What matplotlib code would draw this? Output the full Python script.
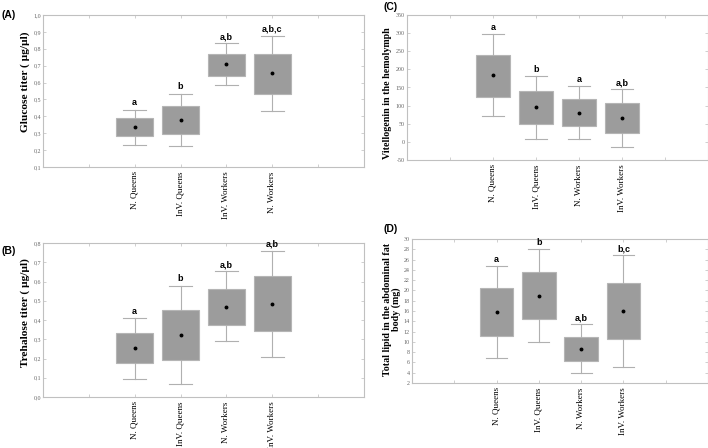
import numpy as np
import matplotlib.pyplot as plt
from matplotlib.ticker import FuncFormatter

# values (box = lower/upper edge, whiskers = low/high, dot = mean)
groups_a = ['N. Queens', 'InV. Queens', 'InV. Workers', 'N. Workers']
mean_a = [0.335, 0.381, 0.707, 0.654]
box_lo_a = [0.284, 0.298, 0.640, 0.535]
box_hi_a = [0.391, 0.460, 0.772, 0.768]
whis_lo_a = [0.233, 0.223, 0.583, 0.430]
whis_hi_a = [0.440, 0.535, 0.832, 0.875]
letters_a = ['a', 'b', 'a,b', 'a,b,c']

groups_b = ['N. Queens', 'InV. Queens', 'N. Workers', 'InV. Workers']
mean_b = [0.253, 0.324, 0.469, 0.483]
box_lo_b = [0.175, 0.192, 0.376, 0.342]
box_hi_b = [0.334, 0.453, 0.561, 0.626]
whis_lo_b = [0.094, 0.068, 0.289, 0.207]
whis_hi_b = [0.410, 0.579, 0.652, 0.758]
letters_b = ['a', 'b', 'a,b', 'a,b']

groups_c = ['N. Queens', 'InV. Queens', 'N. Workers', 'InV. Workers']
mean_c = [184, 95, 80, 66]
box_lo_c = [125, 49, 44, 25]
box_hi_c = [241, 140, 117, 106]
whis_lo_c = [70, 7, 7, -14]
whis_hi_c = [298, 182, 154, 145]
letters_c = ['a', 'b', 'a', 'a,b']

groups_d = ['N. Queens', 'InV. Queens', 'N. Workers', 'InV. Workers']
mean_d = [15.8, 19.0, 8.7, 16.0]
box_lo_d = [11.2, 14.4, 6.2, 10.5]
box_hi_d = [20.4, 23.6, 11.0, 21.4]
whis_lo_d = [6.8, 9.9, 4.0, 5.1]
whis_hi_d = [24.7, 28.0, 13.4, 26.8]
letters_d = ['a', 'b', 'a,b', 'b,c']

serif = 'Liberation Serif'
sans = 'Liberation Sans'


def panel(rect, groups, mean, lo, hi, wlo, whi, letters, ylim, step, comma):
    ax = fig.add_axes(rect)
    stats = []
    for g, m, l, h, wl, wh in zip(groups, mean, lo, hi, wlo, whi):
        stats.append(dict(label=g, med=m, mean=m, q1=l, q3=h,
                          whislo=wl, whishi=wh, fliers=[]))
    pos = [2, 3, 4, 5]
    ax.bxp(stats, positions=pos, widths=0.8, capwidths=0.5,
           patch_artist=True, showmeans=True, showfliers=False,
           boxprops=dict(facecolor='#9c9c9c', edgecolor='#b5b5b5', linewidth=0.8),
           whiskerprops=dict(color='#b0b0b0', linewidth=0.8),
           capprops=dict(color='#b0b0b0', linewidth=0.8),
           medianprops=dict(linewidth=0),
           meanprops=dict(marker='o', markerfacecolor='black',
                          markeredgecolor='black', markersize=1.8))
    span = ylim[1] - ylim[0]
    for p, wh, t in zip(pos, whi, letters):
        ax.text(p, wh + span * 0.015, t, ha='center', va='bottom',
                fontsize=6.5, fontweight='bold', family=sans)
    ax.set_xlim(0, 7)
    ax.set_xticks(range(1, 7))
    ax.set_xticklabels([''] + groups + [''], rotation=90, fontsize=6.5,
                       family=serif)
    ax.set_ylim(*ylim)
    ax.set_yticks(np.arange(ylim[0], ylim[1] + step / 2, step))
    if comma:
        ax.yaxis.set_major_formatter(
            FuncFormatter(lambda v, _: ('%.1f' % v).replace('.', ',')))
    else:
        ax.yaxis.set_major_formatter(FuncFormatter(lambda v, _: '%d' % round(v)))
    for lab in ax.get_yticklabels():
        lab.set_family(serif)
    ax.tick_params(axis='y', labelsize=4.3, labelcolor='#666666', pad=1.5)
    ax.tick_params(direction='in', top=True, right=True, length=2,
                   color='#c8c8c8', width=0.6)
    ax.tick_params(axis='x', pad=3)
    for s in ax.spines.values():
        s.set_color('#c0c0c0')
        s.set_linewidth(0.8)
    return ax


fig = plt.figure(figsize=(7.08, 4.48), dpi=100)
W, H = 708.0, 448.0


def rect(l, t, r, b):
    return [l / W, 1 - b / H, (r - l) / W, (b - t) / H]


panel(rect(43, 15, 364, 167), groups_a, mean_a, box_lo_a, box_hi_a,
      whis_lo_a, whis_hi_a, letters_a, (0.1, 1.0), 0.1, True)
panel(rect(43, 243, 364, 397), groups_b, mean_b, box_lo_b, box_hi_b,
      whis_lo_b, whis_hi_b, letters_b, (0.0, 0.8), 0.1, True)
panel(rect(407, 15, 708, 160), groups_c, mean_c, box_lo_c, box_hi_c,
      whis_lo_c, whis_hi_c, letters_c, (-50, 350), 50, False)
panel(rect(412, 239, 708, 383), groups_d, mean_d, box_lo_d, box_hi_d,
      whis_lo_d, whis_hi_d, letters_d, (2, 30), 2, False)

# y labels and panel tags
ylab = dict(rotation=90, ha='center', va='center', fontweight='bold',
            family=serif)
fig.text(25 / W, 1 - 82 / H, 'Glucose titer ( µg/µl)', fontsize=8.2, **ylab)
fig.text(25 / W, 1 - 313 / H, 'Trehalose titer ( µg/µl)', fontsize=8.2, **ylab)
fig.text(388 / W, 1 - 93 / H, 'Vitellogenin in the hemolymph', fontsize=7.2,
         **ylab)
fig.text(392 / W, 1 - 309 / H, 'Total lipid in the abdominal fat\nbody (mg)',
         linespacing=1.05, fontsize=7.2, **ylab)

tag = dict(fontsize=7.5, fontweight='bold', family=sans, va='center')
fig.text(1 / W, 1 - 15 / H, '(A)', **tag)
fig.text(1 / W, 1 - 251 / H, '(B)', **tag)
fig.text(383 / W, 1 - 7 / H, '(C)', **tag)
fig.text(383 / W, 1 - 229 / H, '(D)', **tag)

fig.savefig('out.png', dpi=100)
